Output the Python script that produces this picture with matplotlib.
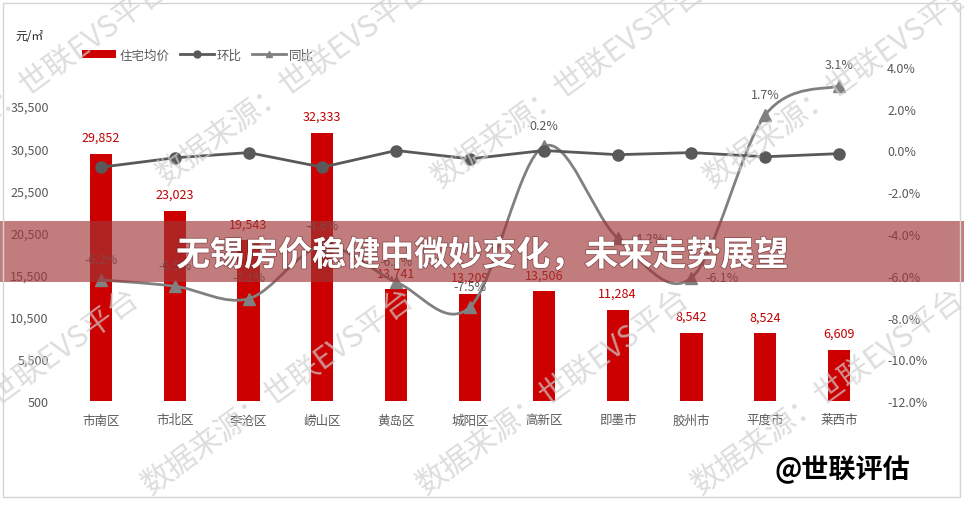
import matplotlib
matplotlib.use("Agg")
import matplotlib.pyplot as plt
import matplotlib.patheffects as pe
import numpy as np
from matplotlib.lines import Line2D
from matplotlib.patches import Patch, PathPatch, Rectangle
from matplotlib.path import Path
from matplotlib.ticker import FixedLocator, FuncFormatter

plt.rcParams["font.family"] = ["Noto Sans CJK SC", "DejaVu Sans"]

W, H = 964, 506

DISTRICTS = ["市南区", "市北区", "李沧区", "崂山区", "黄岛区", "城阳区",
             "高新区", "即墨市", "胶州市", "平度市", "莱西市"]
PRICE = [29852, 23023, 19543, 32333, 13741, 13209, 13506, 11284, 8542, 8524, 6609]
MOM = [-0.8, -0.35, -0.1, -0.8, 0.0, -0.4, 0.0, -0.2, -0.1, -0.3, -0.15]  # 环比 %
YOY = [-6.2, -6.5, -7.1, -4.6, -6.3, -7.5, 0.2, -4.2, -6.1, 1.7, 3.1]     # 同比 %
PRICE_TICKS = [500, 5500, 10500, 15500, 20500, 25500, 30500, 35500]
PCT_TICKS = [-12, -10, -8, -6, -4, -2, 0, 2, 4]

TITLE = "无锡房价稳健中微妙变化，未来走势展望"
BRAND = "@世联评估"
WATERMARK = "数据来源：世联EVS平台"

BAR_RED = "#CC0000"
LABEL_RED = "#C00000"
TEXT_GREY = "#595959"
MOM_GREY = "#595959"
YOY_GREY = "#808080"

# labels placed to the right of the point instead of above
YOY_RIGHT = {7, 8}


def fig_xy(x, y):
    return x / W, 1 - y / H


def smooth_path(xs, ys):
    """Excel-like smoothed line as cubic bezier segments."""
    n = len(xs)
    verts = [(xs[0], ys[0])]
    codes = [Path.MOVETO]
    for i in range(n - 1):
        x0, y0 = (xs[i - 1], ys[i - 1]) if i > 0 else (xs[i], ys[i])
        x1, y1 = xs[i], ys[i]
        x2, y2 = xs[i + 1], ys[i + 1]
        x3, y3 = (xs[i + 2], ys[i + 2]) if i + 2 < n else (x2, y2)
        verts += [
            (x1 + (x2 - x0) / 6, y1 + (y2 - y0) / 6),
            (x2 - (x3 - x1) / 6, y2 - (y3 - y1) / 6),
            (x2, y2),
        ]
        codes += [Path.CURVE4] * 3
    return Path(verts, codes)


def main():
    fig = plt.figure(figsize=(W / 100, H / 100), dpi=100)
    fig.patch.set_facecolor("white")

    ax = fig.add_axes([64 / W, 1 - 402 / H, (876 - 64) / W, (402 - 68) / H])
    ax2 = ax.twinx()

    x = np.arange(len(DISTRICTS))
    ax.bar(x, PRICE, width=0.3, color=BAR_RED, zorder=2)
    ax.set_xlim(-0.5, len(DISTRICTS) - 0.5)
    ax.set_ylim(500, 40127)
    ax.yaxis.set_major_locator(FixedLocator(PRICE_TICKS))
    ax.yaxis.set_major_formatter(FuncFormatter(lambda v, _: f"{int(v):,}"))
    ax.set_xticks(x)
    ax.set_xticklabels(DISTRICTS)

    for xi, v in zip(x, PRICE):
        ax.annotate(f"{v:,}", xy=(xi, v), xytext=(0, 12), textcoords="offset points",
                    ha="center", va="center", fontsize=9, color=LABEL_RED)

    ax2.set_ylim(-12, 4)
    ax2.yaxis.set_major_locator(FixedLocator(PCT_TICKS))
    ax2.yaxis.set_major_formatter(FuncFormatter(lambda v, _: f"{v:.1f}%"))

    ax2.add_patch(PathPatch(smooth_path(x, YOY), fill=False, ec=YOY_GREY, lw=2,
                            zorder=3, capstyle="round", joinstyle="round"))
    ax2.plot(x, YOY, ls="none", marker="^", ms=8, color=YOY_GREY, zorder=4)
    ax2.plot(x, MOM, color=MOM_GREY, lw=2, marker="o", ms=8, zorder=5)

    for i, v in enumerate(YOY):
        offset = (22, 0) if i in YOY_RIGHT else (0, 15)
        ax2.annotate(f"{v:.1f}%", xy=(x[i], v), xytext=offset, textcoords="offset points",
                     ha="center", va="center", fontsize=9, color=TEXT_GREY)

    for a in (ax, ax2):
        for s in a.spines.values():
            s.set_visible(False)
        a.tick_params(length=0, labelsize=9, labelcolor=TEXT_GREY)
    ax.tick_params(axis="y", pad=11)
    ax.tick_params(axis="x", pad=9)
    ax2.tick_params(axis="y", pad=8)

    fig.text(*fig_xy(15, 36), "元/㎡", ha="left", va="center", fontsize=8.5, color="#262626")

    handles = [
        Patch(facecolor=BAR_RED, edgecolor="none"),
        Line2D([], [], color=MOM_GREY, lw=2, marker="o", ms=5),
        Line2D([], [], color=YOY_GREY, lw=2, marker="^", ms=5),
    ]
    leg = fig.legend(handles, ["住宅均价", "环比", "同比"], loc="center left",
                     bbox_to_anchor=fig_xy(76, 56), ncol=3, frameon=False,
                     fontsize=9, handlelength=2.7, handleheight=0.55,
                     handletextpad=0.25, columnspacing=0.85, borderpad=0)
    for t in leg.get_texts():
        t.set_color(TEXT_GREY)

    # watermark
    starts = [(-95, 185), (165, 185), (440, 188), (712, 188),
              (-125, 495), (150, 495), (425, 495), (700, 495)]
    for sx, sy in starts:
        fig.text(*fig_xy(sx, sy), WATERMARK, rotation=36, rotation_mode="anchor",
                 ha="left", va="baseline", fontsize=22, color="#cfcfcf",
                 fontweight="light", alpha=0.7, zorder=8)

    # banner
    fig.add_artist(Rectangle(fig_xy(0, 283), 1, (283 - 222) / H,
                             transform=fig.transFigure, facecolor=(160 / 255, 55 / 255, 55 / 255),
                             alpha=0.65, edgecolor="none", zorder=10))
    fig.text(*fig_xy(482, 256), TITLE, ha="center", va="center", color="white",
             fontsize=24.5, fontweight="heavy", zorder=11,
             path_effects=[pe.withStroke(linewidth=1.2, foreground=(0.35, 0.1, 0.1, 0.5))])

    fig.text(*fig_xy(775, 470), BRAND, ha="left", va="center", fontsize=19.5,
             fontweight="bold", color="black", zorder=11)

    fig.add_artist(Rectangle(fig_xy(3, 498), (960 - 3) / W, (498 - 4) / H,
                             transform=fig.transFigure, fill=False,
                             edgecolor="#d4d4d4", lw=1, zorder=12))

    fig.savefig("out.png", dpi=100)


if __name__ == "__main__":
    main()
